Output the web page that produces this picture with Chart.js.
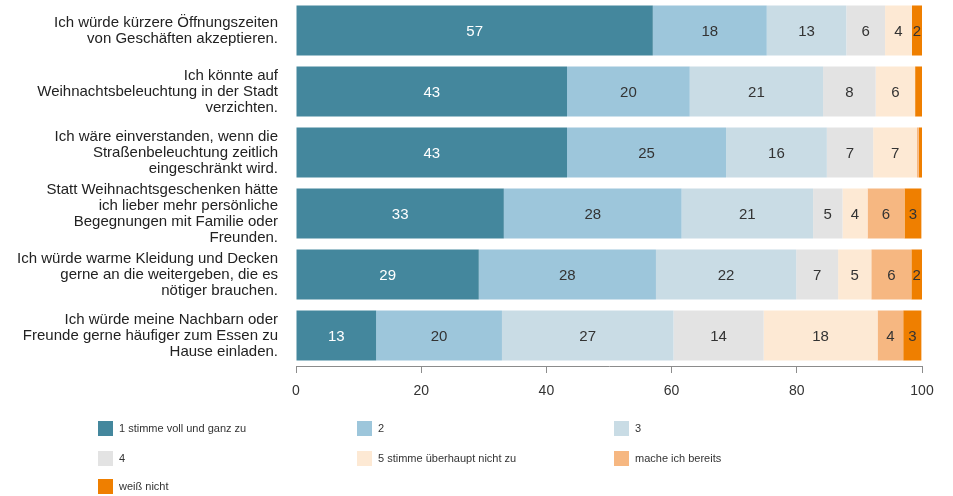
<!DOCTYPE html>
<html>
<head>
<meta charset="utf-8">
<script src="https://cdn.jsdelivr.net/npm/chart.js@4/dist/chart.umd.min.js"></script>
<style>
  html, body { margin: 0; padding: 0; background: #fff; }
  #wrap { width: 953px; height: 496px; position: relative; }
</style>
</head>
<body>
<div id="wrap"><canvas id="chart" width="953" height="496"></canvas></div>
<script>
const categories = [
    ['Ich würde kürzere Öffnungszeiten', 'von Geschäften akzeptieren.'],
    ['Ich könnte auf', 'Weihnachtsbeleuchtung in der Stadt', 'verzichten.'],
    ['Ich wäre einverstanden, wenn die', 'Straßenbeleuchtung zeitlich', 'eingeschränkt wird.'],
    ['Statt Weihnachtsgeschenken hätte', 'ich lieber mehr persönliche', 'Begegnungen mit Familie oder', 'Freunden.'],
    ['Ich würde warme Kleidung und Decken', 'gerne an die weitergeben, die es', 'nötiger brauchen.'],
    ['Ich würde meine Nachbarn oder', 'Freunde gerne häufiger zum Essen zu', 'Hause einladen.']
];

const seriesNames = ['1 stimme voll und ganz zu', '2', '3', '4', '5 stimme überhaupt nicht zu', 'mache ich bereits', 'weiß nicht'];
const seriesColors = ['#44879d', '#9dc6db', '#c9dce5', '#e3e3e3', '#fde9d4', '#f6b781', '#ef7f00'];

// Prozentwerte je Aussage
const answer1 = [57, 43.3, 43.3, 33.2, 29.2, 12.8];
const answer2 = [18.2, 19.6, 25.4, 28.4, 28.3, 20.1];
const answer3 = [12.7, 21.3, 16.1, 21, 22.4, 27.4];
const answer4 = [6.2, 8.4, 7.4, 4.7, 6.7, 14.4];
const answer5 = [4.3, 6.3, 7.0, 4, 5.3, 18.2];
const alreadyDo = [0, 0, 0.3, 5.9, 6.4, 4.1];
const dontKnow = [1.6, 1.1, 0.5, 2.7, 1.7, 2.9];

const xTicks = [0, 20, 40, 60, 80, 100];

const seriesValues = [answer1, answer2, answer3, answer4, answer5, alreadyDo, dontKnow];

const FONT = '"Liberation Sans", Arial, sans-serif';

// Zahlen in die Balkensegmente schreiben
const segmentLabels = {
    id: 'segmentLabels',
    afterDatasetsDraw(chart) {
        const ctx = chart.ctx;
        ctx.save();
        ctx.font = '15px ' + FONT;
        ctx.textAlign = 'center';
        ctx.textBaseline = 'middle';
        chart.data.datasets.forEach((ds, i) => {
            const meta = chart.getDatasetMeta(i);
            meta.data.forEach((bar, j) => {
                const v = ds.data[j];
                if (v < 1.5) return;
                const x = (bar.x + bar.base) / 2;
                ctx.fillStyle = i === 0 ? '#ffffff' : '#333333';
                ctx.fillText(Math.round(v), x, bar.y + 1);
            });
        });
        ctx.restore();
    }
};

// Legende in drei Spalten unter dem Diagramm
const gridLegend = {
    id: 'gridLegend',
    afterDraw(chart) {
        const ctx = chart.ctx;
        const colX = [98, 357, 614];
        const rowY = [421, 451, 479];
        ctx.save();
        ctx.font = '11px ' + FONT;
        ctx.textBaseline = 'middle';
        chart.data.datasets.forEach((ds, i) => {
            const x = colX[i % 3];
            const y = rowY[Math.floor(i / 3)];
            ctx.fillStyle = ds.backgroundColor;
            ctx.fillRect(x, y, 15, 15);
            ctx.fillStyle = '#333333';
            ctx.fillText(ds.label, x + 21, y + 8);
        });
        ctx.restore();
    }
};

function buildDatasets() {
    return seriesNames.map((name, i) => ({
        label: name,
        data: seriesValues[i],
        backgroundColor: seriesColors[i],
        borderWidth: 0,
        categoryPercentage: 1,
        barPercentage: 0.82
    }));
}

window.onload = () => {
    const ctx = document.getElementById('chart').getContext('2d');
    new Chart(ctx, {
        type: 'bar',
        data: {
            labels: categories,
            datasets: buildDatasets()
        },
        options: {
            indexAxis: 'y',
            responsive: false,
            animation: false,
            layout: { padding: { left: 0, right: 31, top: 0, bottom: 0 } },
            plugins: {
                legend: { display: false },
                tooltip: { enabled: false }
            },
            scales: {
                x: {
                    stacked: true,
                    min: 0,
                    max: 100,
                    afterBuildTicks: (scale) => {
                        scale.ticks = xTicks.map(v => ({ value: v }));
                    },
                    afterFit: (scale) => {
                        scale.height = 130;
                        scale.paddingLeft = 0;
                        scale.paddingRight = 0;
                    },
                    border: { display: true, color: '#8c8c8c', width: 1 },
                    grid: { drawOnChartArea: false, drawTicks: true, tickLength: 7, color: '#8c8c8c' },
                    ticks: {
                        color: '#333333',
                        font: { family: FONT, size: 14 },
                        padding: 10,
                        maxRotation: 0
                    }
                },
                y: {
                    stacked: true,
                    afterFit: (scale) => {
                        scale.width = 296;
                        scale.paddingTop = 0;
                        scale.paddingBottom = 0;
                    },
                    border: { display: false },
                    grid: { display: false, drawTicks: false },
                    ticks: {
                        color: '#222222',
                        font: { family: FONT, size: 15, lineHeight: 1.07 },
                        padding: 18,
                        autoSkip: false
                    }
                }
            }
        },
        plugins: [segmentLabels, gridLegend]
    });
};
</script>
</body>
</html>
